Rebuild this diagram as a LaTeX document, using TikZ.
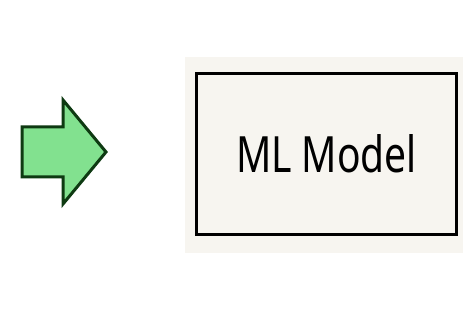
\documentclass[tikz,border=0pt]{standalone}
\usepackage{fontspec}
\setmainfont{Noto Sans}
\definecolor{arrowfill}{HTML}{82E18F}
\definecolor{arrowline}{HTML}{0E3A12}
\definecolor{paper}{HTML}{F7F5F0}
\tikzset{
  blockarrow/.style={fill=arrowfill, draw=arrowline, line width=3pt, line join=miter},
  modelbox/.style={draw=black, line width=3.5pt, minimum width=260pt, minimum height=161pt,
    inner sep=0pt, font=\fontsize{50}{60}\selectfont},
}
\begin{document}
\begin{tikzpicture}[x=1pt,y=-1pt]
  \useasboundingbox[fill=white] (0,0) rectangle (464,334);
  % input arrow
  \draw[blockarrow] (22,127) -- (63,127) -- (63,100) -- (106,152) -- (63,204)
    -- (63,177) -- (22,177) -- cycle;
  % model block on its paper background
  \fill[paper] (185,57) rectangle (463,253);
  \node[modelbox] (model) at (326.5,154) {\scalebox{0.78}[1]{ML Model}};
\end{tikzpicture}
\end{document}
